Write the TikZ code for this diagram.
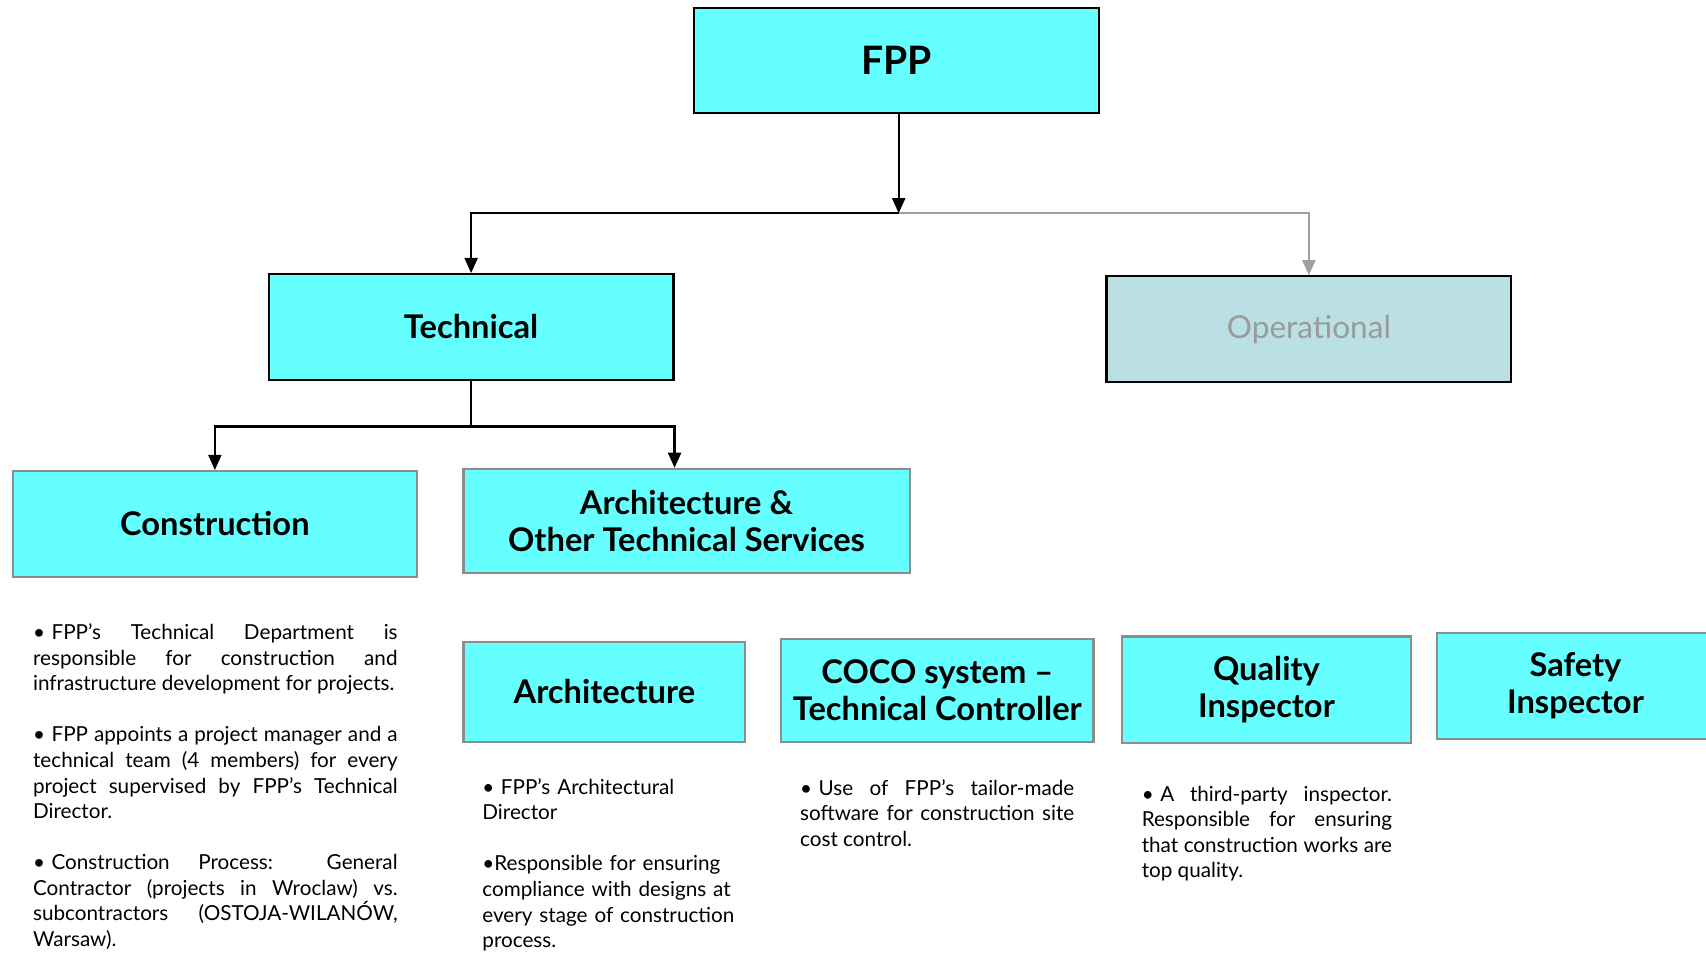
\documentclass[tikz,border=0pt]{standalone}
\usepackage{fontspec}
\setmainfont{Lato}
\usetikzlibrary{arrows.meta}
\definecolor{cy}{HTML}{66FFFF}
\definecolor{opfill}{HTML}{BAE0E3}
\definecolor{optext}{HTML}{9A9A9A}
\definecolor{gline}{HTML}{A0A0A0}
\definecolor{gborder}{HTML}{8C8C8C}
\newcommand{\bul}{\mbox{•\hspace{3pt}}}
\begin{document}
\begin{tikzpicture}[x=0.5pt,y=-0.5pt,
  topbox/.style={draw=black,line width=1pt,fill=cy,inner sep=0pt,align=center,
    font=\bfseries\fontsize{15}{17}\selectfont},
  opbox/.style={draw=black,line width=1pt,fill=opfill,inner sep=0pt,align=center,
    text=optext,font=\fontsize{14.5}{17}\selectfont},
  subbox/.style={draw=gborder,line width=1pt,fill=cy,inner sep=0pt,align=center,
    font=\bfseries\fontsize{15}{17}\selectfont},
  arr/.style={line width=1pt,-{Triangle[length=7pt,width=6pt]}},
  garr/.style={draw=gline,line width=1pt,-{Triangle[length=7pt,width=6pt]}},
  body/.style={anchor=north west,inner sep=0pt,
    font=\fontsize{9.5}{11.75}\selectfont}
]
\clip (0,0) rectangle (1568,875);
\fill[white] (0,0) rectangle (1568,875);

% boxes
\node[topbox,minimum width=186pt,minimum height=48.5pt,
  font=\bfseries\fontsize{18}{20}\selectfont] (fpp) at (824,55.5) {FPP};
\node[topbox,minimum width=186pt,minimum height=48.5pt] (tech) at (433,300.5) {Technical};
\node[opbox,minimum width=186pt,minimum height=48.5pt] (oper) at (1203,302.5) {Operational};
\node[subbox,minimum width=185.5pt,minimum height=48.5pt] (cons) at (197.5,481.5) {Construction};
\node[subbox,minimum width=205pt,minimum height=48pt] (aots) at (631,479) {Architecture \&\\Other Technical Services};
\node[subbox,minimum width=129.5pt,minimum height=46pt] (arch) at (555.5,636) {Architecture};
\node[subbox,minimum width=143.5pt,minimum height=47.5pt] (coco) at (861.5,634.5) {COCO system --\\Technical Controller};
\node[subbox,minimum width=133pt,minimum height=49pt] (qual) at (1164,634) {Quality\\Inspector};
\node[subbox,minimum width=127pt,minimum height=48.5pt] (safe) at (1448,630.5) {Safety\\Inspector};

% connectors
\coordinate (j1) at ([xshift=1pt,yshift=-45.5pt]fpp.south);
\coordinate (j2) at ([yshift=-21pt]tech.south);
\draw[arr] ([xshift=1pt]fpp.south) -- (j1);
\draw[arr] (j1) -| (tech.north);
\draw[garr] (j1) -| (oper.north);
\draw[line width=1pt] (tech.south) -- (j2);
\draw[arr] (j2) -| (cons.north);
\draw[arr] (j2) -| ([xshift=-5.5pt]aots.north);

% body texts
\node[body,text width=167.5pt,align=justify] (tcons) at (30,573) {\hyphenpenalty=10000
\bul FPP’s Technical Department is\linebreak responsible for construction and\linebreak infrastructure development for projects.\par\vspace{\baselineskip}
\bul FPP appoints a project manager and a\linebreak technical team (4 members) for every\linebreak project supervised by FPP’s Technical\linebreak Director.\par\vspace{\baselineskip}
\bul Construction Process: General\linebreak Contractor (projects in Wroclaw) vs.\linebreak subcontractors (OSTOJA-WILANÓW,\linebreak Warsaw).};

\node[body,text width=125pt,align=left] (tarch) at (443,715) {\bul FPP’s Architectural\\Director\\[\baselineskip]•Responsible for ensuring\\compliance with designs at\\every stage of construction\\process.};

\node[body,text width=126pt,align=justify] (tcoco) at (735,716) {\hyphenpenalty=10000
\bul Use of FPP’s tailor-made\linebreak software for construction site\linebreak cost control.};

\node[body,text width=115pt,align=justify] (tqual) at (1049,722) {\hyphenpenalty=10000
\bul A third-party inspector.\linebreak Responsible for ensuring\linebreak that construction works are\linebreak top quality.};
\end{tikzpicture}
\end{document}
